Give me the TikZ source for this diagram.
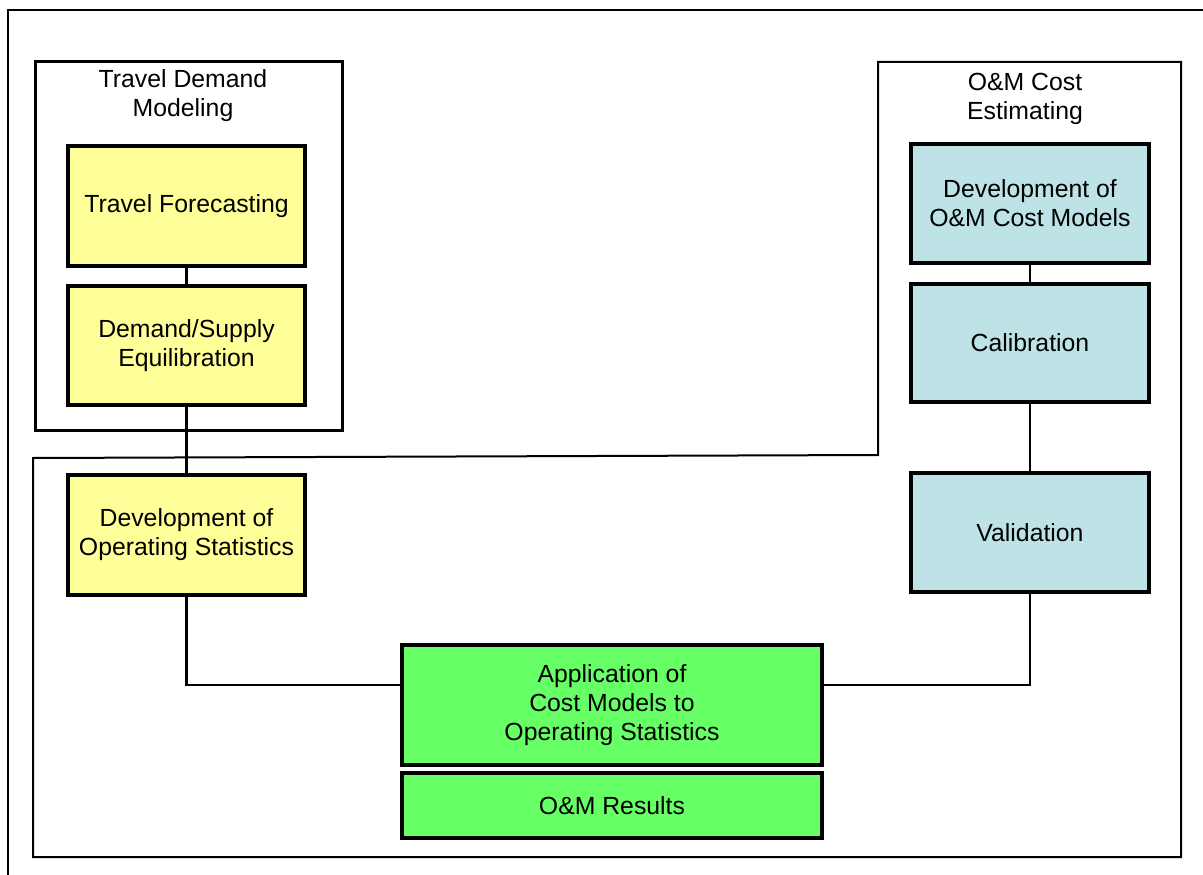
\documentclass[tikz,border=0pt]{standalone}
\usepackage{fontspec}
\setmainfont{Liberation Sans}
\definecolor{tyellow}{HTML}{FFFF99}
\definecolor{tteal}{HTML}{BDE3E6}
\definecolor{tgreen}{HTML}{66FF66}
\begin{document}
\begin{tikzpicture}[x=1pt,y=-1pt,
  box/.style={draw=black,line width=3.2pt,minimum width=#1,inner sep=0pt,align=center,
    font=\fontsize{24.8}{29}\selectfont},
  box/.default=237pt,
  grp/.style={draw=black,line width=3pt},
  thinframe/.style={draw=black,line width=2pt},
  conn/.style={draw=black,line width=2.4pt},
  ttl/.style={align=center,font=\fontsize{24.8}{29}\selectfont,inner sep=0pt}]
\useasboundingbox (0,0) rectangle (1203,875);
% outer frame
\draw[line width=2.6pt] (8,875) -- (8,10) -- (1203,10);
% group boxes
\draw[grp] (35,62) rectangle (342,430);
\draw[thinframe] (33,458) -- (878,455) -- (878,62) -- (1181,62) -- (1181,857) -- (33,857) -- cycle;
\node[ttl] (t1) at (183,96) {Travel Demand\\Modeling};
\node[ttl] (t2) at (1025,99) {O\&M Cost\\Estimating};
% boxes
\node[box,fill=tyellow,minimum height=120pt] (tf) at (186.5,206) {Travel Forecasting};
\node[box,fill=tyellow,minimum height=119pt] (ds) at (186.5,345.5) {Demand/Supply\\Equilibration};
\node[box,fill=tyellow,minimum height=120pt] (dos) at (186.5,535) {Development of\\Operating Statistics};
\node[box=420pt,fill=tgreen,minimum height=120pt] (app) at (612,705) {Application of\\Cost Models to\\Operating Statistics};
\node[box=420pt,fill=tgreen,minimum height=65pt] (omr) at (612,805.5) {O\&M Results};
\node[box=238pt,fill=tteal,minimum height=119pt] (dcm) at (1030,203.5) {Development of\\O\&M Cost Models};
\node[box=238pt,fill=tteal,minimum height=118pt] (cal) at (1030,343) {Calibration};
\node[box=238pt,fill=tteal,minimum height=119pt] (val) at (1030,532.5) {Validation};
% connector anchors on the application box
\coordinate (appw) at ([yshift=20pt]app.west);
\coordinate (appe) at ([yshift=20pt]app.east);
% connectors
\draw[conn] (tf.south) -- (ds.north);
\draw[conn] (ds.south) -- (dos.north);
\draw[conn] (dos.south) |- (appw);
\draw[conn] (val.south) |- (appe);
\draw[conn] (dcm.south) -- (cal.north);
\draw[conn] (cal.south) -- (val.north);
\end{tikzpicture}
\end{document}
